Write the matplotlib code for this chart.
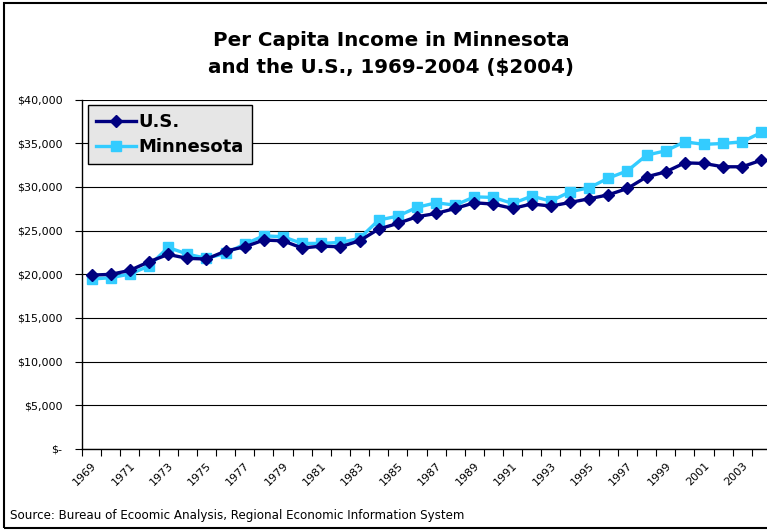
import matplotlib.pyplot as plt
from matplotlib.patches import Rectangle
from matplotlib.ticker import FuncFormatter

# --- Data (real $2004 per capita income) ---
years = list(range(1969, 2005))
us = [19900, 19990, 20440, 21430, 22270, 21820, 21740, 22650, 23140, 23910,
      23830, 23000, 23220, 23140, 23830, 25170, 25820, 26580, 26960, 27530,
      28180, 28030, 27530, 28050, 27800, 28220, 28640, 29090, 29820, 31150,
      31720, 32750, 32680, 32300, 32300, 33060]
mn = [19450, 19600, 20020, 20940, 23070, 22310, 21820, 22390, 23450, 24400,
      24290, 23530, 23530, 23650, 24100, 26200, 26650, 27650, 28180, 27910,
      28860, 28790, 28100, 28940, 28370, 29440, 29900, 31000, 31840, 33630,
      34130, 35160, 34860, 34970, 35160, 36230]
yticks = [0, 5000, 10000, 15000, 20000, 25000, 30000, 35000, 40000]

W, H = 767, 531
fig = plt.figure(figsize=(W / 100, H / 100), dpi=100)

# outer chart border
fig.patches.append(Rectangle((4 / W, 3 / H), 1.2, (H - 6) / H, transform=fig.transFigure,
                             fill=False, edgecolor='black', linewidth=1.5))

ax = fig.add_axes([82 / W, 1 - 449 / H, 689 / W, 349.5 / H])

x = list(range(len(years)))
ax.plot(x, us, color='#000080', linewidth=2.4, marker='D', markersize=6,
        label='U.S.', clip_on=False, zorder=3)
ax.plot(x, mn, color='#33CCFF', linewidth=2.4, marker='s', markersize=7,
        label='Minnesota', clip_on=False, zorder=2)

ax.set_xlim(-0.5, len(years) - 0.5)
ax.set_ylim(0, 40000)

# y axis
ax.set_yticks(yticks)
ax.yaxis.set_major_formatter(FuncFormatter(lambda v, p: '$-' if v == 0 else f'${v:,.0f}'))
ax.tick_params(axis='y', length=5, width=0.8, labelsize=8, pad=9)
ax.grid(axis='y', color='black', linewidth=0.8)
ax.set_axisbelow(True)

# x axis: tick marks between categories, labels every other year
ax.set_xticks([i - 0.5 for i in range(len(years) + 1)])
ax.set_xticklabels([])
ax.tick_params(axis='x', which='major', length=5, width=0.8, direction='out')
ax.set_xticks(x[::2], minor=True)
ax.set_xticklabels([str(y) for y in years[::2]], minor=True, rotation=45,
                   ha='right', va='top', rotation_mode='anchor', fontsize=8)
ax.tick_params(axis='x', which='minor', length=0, pad=8)

for s in ['top', 'right']:
    ax.spines[s].set_visible(False)
for s in ['left', 'bottom']:
    ax.spines[s].set_linewidth(1.0)

fig.text(391 / W, 1 - 40 / H, 'Per Capita Income in Minnesota', ha='center', va='center',
         fontsize=14.3, fontweight='bold')
fig.text(391 / W, 1 - 67 / H, 'and the U.S., 1969-2004 ($2004)', ha='center', va='center',
         fontsize=14.3, fontweight='bold')

leg = ax.legend(loc='upper left', bbox_to_anchor=(88 / W, 1 - 105 / H),
                bbox_transform=fig.transFigure, borderaxespad=0, fancybox=False,
                framealpha=1, facecolor='#e6e6e6', edgecolor='black', handlelength=2.2,
                handletextpad=0.15, borderpad=0.45, labelspacing=0.4,
                prop={'size': 13, 'weight': 'bold'})
leg.get_frame().set_linewidth(1.0)

fig.text(10 / W, 1 - 515 / H,
         'Source: Bureau of Ecoomic Analysis, Regional Economic Information System',
         ha='left', va='center', fontsize=8.6)

fig.savefig('out.png', dpi=100)
